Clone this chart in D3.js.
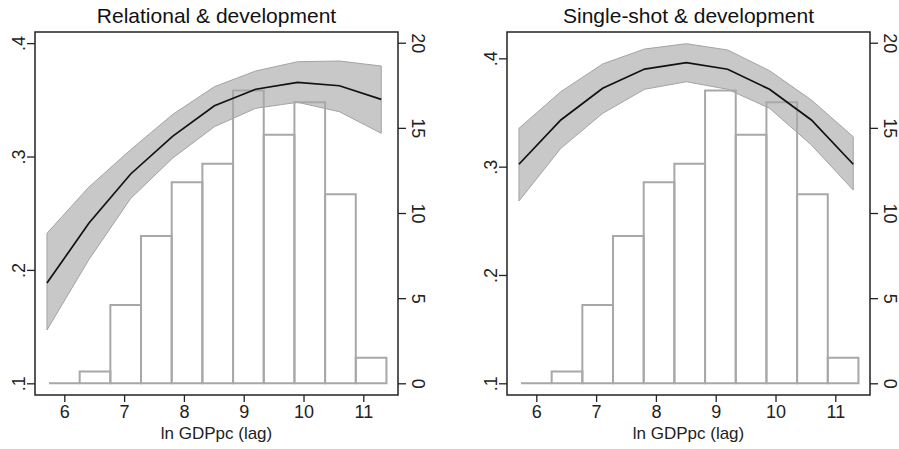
<!DOCTYPE html>
<html>
<head>
<meta charset="utf-8">
<script src="https://cdn.jsdelivr.net/npm/d3@7"></script>
<style>
  html, body { margin: 0; padding: 0; background: #fff; }
  svg { display: block; font-family: "Liberation Sans", Arial, sans-serif; }
</style>
</head>
<body>
<svg id="chart" width="899" height="449"></svg>
<script>
// ---------- data ----------
const titles = ["Relational & development", "Single-shot & development"];
const xLabel = "ln GDPpc (lag)";
const xTicks = [6, 7, 8, 9, 10, 11];
const xTickLabels = ["6", "7", "8", "9", "10", "11"];
const yTicksLeft = [0.1, 0.2, 0.3, 0.4];
const yTickLabelsLeft = [".1", ".2", ".3", ".4"];
const yTicksRight = [0, 5, 10, 15, 20];
const yTickLabelsRight = ["0", "5", "10", "15", "20"];

const xKnots = [5.71, 6.41, 7.11, 7.81, 8.51, 9.20, 9.90, 10.60, 11.30];
const relFit   = [0.1884, 0.2411, 0.2846, 0.3178, 0.3447, 0.3593, 0.3654, 0.3624, 0.3504];
const relUpper = [0.2323, 0.2730, 0.3060, 0.3370, 0.3616, 0.3754, 0.3836, 0.3842, 0.3798];
const relLower = [0.1470, 0.2090, 0.2630, 0.2985, 0.3263, 0.3425, 0.3478, 0.3395, 0.3205];
const shotFit   = [0.3022, 0.3431, 0.3723, 0.3901, 0.3960, 0.3899, 0.3714, 0.3431, 0.3022];
const shotUpper = [0.3354, 0.3692, 0.3948, 0.4086, 0.4135, 0.4077, 0.3886, 0.3615, 0.3276];
const shotLower = [0.2683, 0.3169, 0.3492, 0.3714, 0.3784, 0.3714, 0.3539, 0.3200, 0.2784];

const binEdges = [5.744, 6.257, 6.770, 7.283, 7.796, 8.309, 8.822, 9.335, 9.848, 10.361, 10.874, 11.387];
const binCounts = [0, 0.7, 4.6, 8.65, 11.8, 12.9, 17.2, 14.6, 16.5, 11.1, 1.5];

// ---------- layout ----------
const panels = [
  { title: titles[0], fit: relFit, upper: relUpper, lower: relLower,
    left: 35, right: 398, yDomain: [0.0897, 0.4098] },
  { title: titles[1], fit: shotFit, upper: shotUpper, lower: shotLower,
    left: 507, right: 870, yDomain: [0.0892, 0.4243] }
];
const plotTop = 32, plotBottom = 395;
const xDomain = [5.51, 11.58];
const countDomain = [-0.687, 20.63];
const FONT = "Liberation Sans, Arial, sans-serif";

const svg = d3.select("#chart");
const hist = binCounts.map((c, i) => ({ x0: binEdges[i], x1: binEdges[i + 1], c }));
const pts = (p) => xKnots.map((x, i) => ({ x, fit: p.fit[i], lo: p.lower[i], hi: p.upper[i] }));

panels.forEach(p => {
  const x = d3.scaleLinear().domain(xDomain).range([p.left, p.right]);
  const y = d3.scaleLinear().domain(p.yDomain).range([plotBottom, plotTop]);
  const yc = d3.scaleLinear().domain(countDomain).range([plotBottom, plotTop]);
  const g = svg.append("g");
  const data = pts(p);

  // CI band
  g.append("path")
    .datum(data)
    .attr("d", d3.area().x(d => x(d.x)).y0(d => y(d.lo)).y1(d => y(d.hi)))
    .attr("fill", "#c8c8c8")
    .attr("stroke", "#a3a3a3")
    .attr("stroke-width", 1);

  // histogram (outline only)
  g.selectAll("path.bar").data(hist).enter().append("path")
    .attr("class", "bar")
    .attr("d", d => {
      const pth = d3.path();
      pth.moveTo(x(d.x0), yc(0));
      pth.lineTo(x(d.x0), yc(d.c));
      pth.lineTo(x(d.x1), yc(d.c));
      pth.lineTo(x(d.x1), yc(0));
      pth.closePath();
      return pth.toString();
    })
    .attr("fill", "none")
    .attr("stroke", "#a8a8a8")
    .attr("stroke-width", 2);

  // fitted line
  g.append("path")
    .datum(data)
    .attr("d", d3.line().x(d => x(d.x)).y(d => y(d.fit)))
    .attr("fill", "none")
    .attr("stroke", "#111")
    .attr("stroke-width", 1.7);

  // frame
  g.append("rect")
    .attr("x", p.left).attr("y", plotTop)
    .attr("width", p.right - p.left).attr("height", plotBottom - plotTop)
    .attr("fill", "none").attr("stroke", "#222").attr("stroke-width", 1.5);

  // bottom axis
  const xa = g.append("g").attr("transform", `translate(0,${plotBottom})`)
    .call(d3.axisBottom(x).tickValues(xTicks).tickFormat((d, i) => xTickLabels[i]).tickSize(7).tickPadding(3));
  xa.select(".domain").remove();
  xa.selectAll("line").attr("stroke", "#222").attr("stroke-width", 1.3);
  xa.selectAll("text").attr("font-size", 18).attr("fill", "#222")
    .attr("font-family", FONT);

  // left axis
  const ya = g.append("g").attr("transform", `translate(${p.left},0)`)
    .call(d3.axisLeft(y).tickValues(yTicksLeft).tickFormat((d, i) => yTickLabelsLeft[i]).tickSize(8));
  ya.select(".domain").remove();
  ya.selectAll("line").attr("stroke", "#222").attr("stroke-width", 1.3);
  ya.selectAll("text")
    .attr("font-size", 18).attr("fill", "#222")
    .attr("font-family", FONT)
    .attr("x", 0).attr("dy", 0)
    .attr("text-anchor", "middle")
    .attr("transform", "translate(-10,0) rotate(-90)");

  // right axis
  const yr = g.append("g").attr("transform", `translate(${p.right},0)`)
    .call(d3.axisRight(yc).tickValues(yTicksRight).tickFormat((d, i) => yTickLabelsRight[i]).tickSize(8));
  yr.select(".domain").remove();
  yr.selectAll("line").attr("stroke", "#222").attr("stroke-width", 1.3);
  yr.selectAll("text")
    .attr("font-size", 18).attr("fill", "#222")
    .attr("font-family", FONT)
    .attr("x", 0).attr("dy", 0)
    .attr("text-anchor", "middle")
    .attr("transform", "translate(14,0) rotate(90)");

  // title
  g.append("text")
    .attr("x", (p.left + p.right) / 2).attr("y", 23)
    .attr("text-anchor", "middle").attr("font-size", 21).attr("fill", "#111")
    .text(p.title);

  // x axis title
  g.append("text")
    .attr("x", (p.left + p.right) / 2).attr("y", 439)
    .attr("text-anchor", "middle").attr("font-size", 17).attr("fill", "#222")
    .text(xLabel);
});
</script>
</body>
</html>
